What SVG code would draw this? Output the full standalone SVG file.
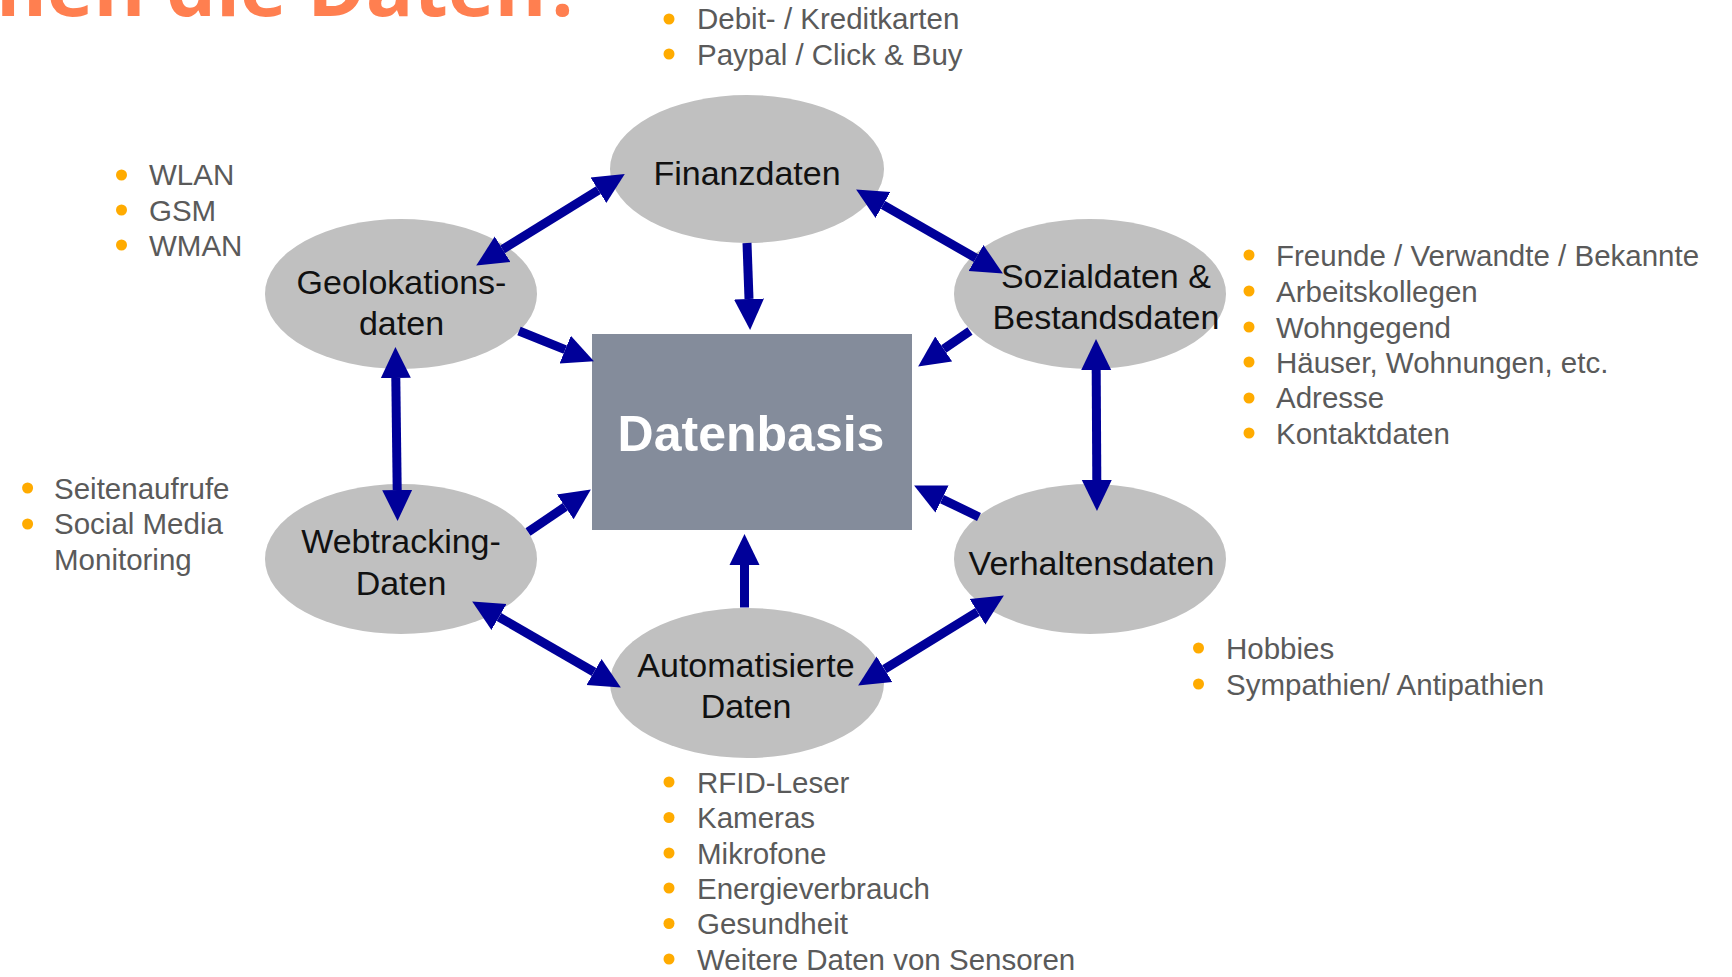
<svg xmlns="http://www.w3.org/2000/svg" width="1732" height="977" viewBox="0 0 1732 977">
<style>
.node ellipse{fill:#c0c0c0}
.lbl{font-family:"Liberation Sans",Arial,sans-serif;font-size:34px;fill:#111;text-anchor:middle}
.li{font-family:"Liberation Sans",Arial,sans-serif;font-size:29.5px;fill:#5a5a5a}
.dot{fill:#ffab00}
.conn line{stroke:#000099;stroke-width:9;marker-end:url(#ah)}
.conn line.bi{marker-start:url(#ah)}
</style>
<defs>
<marker id="ah" markerUnits="userSpaceOnUse" markerWidth="32" markerHeight="32" refX="0" refY="15" orient="auto-start-reverse" viewBox="0 0 32 30">
<path d="M0,0 L31,15 L0,30 z" fill="#000099"/>
</marker>
</defs>
<rect width="1732" height="977" fill="#fff"/>
<text x="584" y="16" font-family="'Open Sans',sans-serif" font-weight="700" font-size="79" fill="#ff7f50" text-anchor="end">Woher kommen die Daten?</text>

<g id="datenbasis">
<rect x="592" y="334" width="320" height="196" fill="#848c9b"/>
<text x="751" y="451" font-family="'Liberation Sans',Arial,sans-serif" font-weight="700" font-size="50" fill="#fff" text-anchor="middle">Datenbasis</text>
</g>
<g id="finanzdaten" class="node"><ellipse cx="747" cy="169" rx="137" ry="74"/><text class="lbl" x="747" y="184.5">Finanzdaten</text></g>
<g id="geolokation" class="node"><ellipse cx="401" cy="294" rx="136" ry="75"/><text class="lbl" x="401.5" y="294">Geolokations-</text><text class="lbl" x="401.5" y="335">daten</text></g>
<g id="sozialdaten" class="node"><ellipse cx="1090" cy="294" rx="136" ry="75"/><text class="lbl" x="1106" y="287.5">Sozialdaten &amp;</text><text class="lbl" x="1106" y="328.5">Bestandsdaten</text></g>
<g id="webtracking" class="node"><ellipse cx="401" cy="559" rx="136" ry="75"/><text class="lbl" x="401" y="552.5">Webtracking-</text><text class="lbl" x="401" y="594.5">Daten</text></g>
<g id="verhaltensdaten" class="node"><ellipse cx="1090" cy="559" rx="136" ry="75"/><text class="lbl" x="1091.5" y="574.5">Verhaltensdaten</text></g>
<g id="automatisiert" class="node"><ellipse cx="747" cy="683" rx="137" ry="75"/><text class="lbl" x="746" y="676.5">Automatisierte</text><text class="lbl" x="746" y="717.5">Daten</text></g>

<g id="connectors" class="conn">
<line class="bi" x1="502.6" y1="249.3" x2="598.4" y2="190.2"/>
<line class="bi" x1="883" y1="204.9" x2="976" y2="258.1"/>
<line x1="747" y1="243" x2="749" y2="299"/>
<line x1="519" y1="331" x2="565.2" y2="349.7"/>
<line x1="970" y1="331" x2="943.7" y2="349"/>
<line class="bi" x1="395.8" y1="378" x2="397.2" y2="490"/>
<line class="bi" x1="1096.2" y1="370" x2="1096.8" y2="480"/>
<line x1="528" y1="532" x2="565.2" y2="506.8"/>
<line x1="979" y1="517" x2="942" y2="499.1"/>
<line x1="744.5" y1="607.5" x2="744.5" y2="565"/>
<line class="bi" x1="499" y1="617" x2="594" y2="672"/>
<line class="bi" x1="884.5" y1="669.2" x2="977.5" y2="611.8"/>
</g>

<g id="list-finanz">
<circle class="dot" cx="669" cy="19" r="5.5"/><text class="li" x="697" y="29">Debit- / Kreditkarten</text>
<circle class="dot" cx="669" cy="54" r="5.5"/><text class="li" x="697" y="65">Paypal / Click &amp; Buy</text>
</g>
<g id="list-geo">
<circle class="dot" cx="121.5" cy="175" r="5.5"/><text class="li" x="149" y="185">WLAN</text>
<circle class="dot" cx="121.5" cy="210" r="5.5"/><text class="li" x="149" y="220.5">GSM</text>
<circle class="dot" cx="121.5" cy="245" r="5.5"/><text class="li" x="149" y="256">WMAN</text>
</g>
<g id="list-sozial">
<circle class="dot" cx="1249" cy="255" r="5.5"/><text class="li" x="1276" y="266">Freunde / Verwandte / Bekannte</text>
<circle class="dot" cx="1249" cy="291" r="5.5"/><text class="li" x="1276" y="302">Arbeitskollegen</text>
<circle class="dot" cx="1249" cy="327" r="5.5"/><text class="li" x="1276" y="337.5">Wohngegend</text>
<circle class="dot" cx="1249" cy="362" r="5.5"/><text class="li" x="1276" y="373">Häuser, Wohnungen, etc.</text>
<circle class="dot" cx="1249" cy="398" r="5.5"/><text class="li" x="1276" y="408">Adresse</text>
<circle class="dot" cx="1249" cy="433" r="5.5"/><text class="li" x="1276" y="444">Kontaktdaten</text>
</g>
<g id="list-web">
<circle class="dot" cx="27.6" cy="488" r="5.5"/><text class="li" x="54" y="499">Seitenaufrufe</text>
<circle class="dot" cx="27.6" cy="524" r="5.5"/><text class="li" x="54" y="534">Social Media</text>
<text class="li" x="54" y="570">Monitoring</text>
</g>
<g id="list-verhalten">
<circle class="dot" cx="1198.5" cy="648" r="5.5"/><text class="li" x="1226" y="659">Hobbies</text>
<circle class="dot" cx="1198.5" cy="684" r="5.5"/><text class="li" x="1226" y="694.5">Sympathien/ Antipathien</text>
</g>
<g id="list-auto">
<circle class="dot" cx="669" cy="782" r="5.5"/><text class="li" x="697" y="793">RFID-Leser</text>
<circle class="dot" cx="669" cy="817.5" r="5.5"/><text class="li" x="697" y="828">Kameras</text>
<circle class="dot" cx="669" cy="853" r="5.5"/><text class="li" x="697" y="863.5">Mikrofone</text>
<circle class="dot" cx="669" cy="888" r="5.5"/><text class="li" x="697" y="899">Energieverbrauch</text>
<circle class="dot" cx="669" cy="923.5" r="5.5"/><text class="li" x="697" y="934">Gesundheit</text>
<circle class="dot" cx="669" cy="959" r="5.5"/><text class="li" x="697" y="969.5">Weitere Daten von Sensoren</text>
</g>
</svg>
